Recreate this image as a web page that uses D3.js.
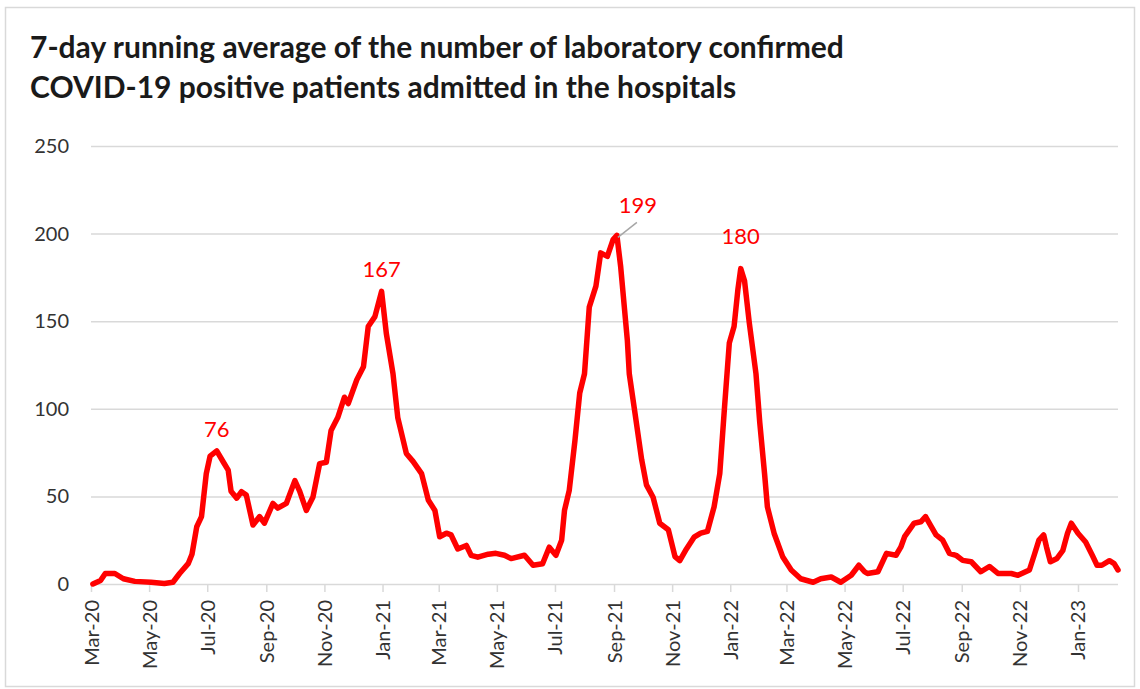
<!DOCTYPE html>
<meta charset="utf-8">
<script src="https://d3js.org/d3.v7.min.js"></script>
<style>
  body { margin: 0; background: #fff; }
  text { font-family: Lato, "Open Sans", sans-serif; }
</style>
<div id="my_dataviz"></div>
<script>
  // data
  var dates = [
    "2020-03-03","2020-03-11","2020-03-16","2020-03-26","2020-04-04","2020-04-16","2020-05-03","2020-05-17","2020-05-26",
    "2020-06-02","2020-06-11","2020-06-15","2020-06-20","2020-06-25","2020-06-30","2020-07-04","2020-07-11","2020-07-18",
    "2020-07-23","2020-07-26","2020-08-01","2020-08-06","2020-08-11","2020-08-18","2020-08-25","2020-08-30","2020-09-08",
    "2020-09-13","2020-09-22","2020-10-01","2020-10-06","2020-10-13","2020-10-20","2020-10-27","2020-11-03","2020-11-08",
    "2020-11-15","2020-11-22","2020-11-26","2020-12-05","2020-12-12","2020-12-17","2020-12-24","2020-12-31","2021-01-05",
    "2021-01-12","2021-01-17","2021-01-26","2021-02-02","2021-02-11","2021-02-18","2021-02-25","2021-03-02","2021-03-09",
    "2021-03-14","2021-03-21","2021-03-30","2021-04-04","2021-04-11","2021-04-22","2021-04-30","2021-05-09","2021-05-16",
    "2021-05-30","2021-06-08","2021-06-18","2021-06-25","2021-07-02","2021-07-08","2021-07-11","2021-07-16","2021-07-22",
    "2021-07-27","2021-08-01","2021-08-06","2021-08-13","2021-08-18","2021-08-25","2021-08-31","2021-09-04","2021-09-08",
    "2021-09-15","2021-09-17","2021-09-23","2021-09-30","2021-10-05","2021-10-12","2021-10-19","2021-10-28","2021-11-04",
    "2021-11-09","2021-11-16","2021-11-24","2021-12-01","2021-12-08","2021-12-15","2021-12-21","2021-12-26","2021-12-31",
    "2022-01-05","2022-01-09","2022-01-12","2022-01-16","2022-01-21","2022-01-28","2022-02-01","2022-02-06","2022-02-09",
    "2022-02-16","2022-02-25","2022-03-06","2022-03-16","2022-03-29","2022-04-06","2022-04-17","2022-04-27","2022-05-08",
    "2022-05-16","2022-05-22","2022-05-25","2022-06-05","2022-06-14","2022-06-24","2022-06-29","2022-07-03","2022-07-13",
    "2022-07-20","2022-07-25","2022-07-31","2022-08-05","2022-08-12","2022-08-19","2022-08-26","2022-09-02","2022-09-11",
    "2022-09-21","2022-09-30","2022-10-09","2022-10-23","2022-10-30","2022-11-11","2022-11-16","2022-11-21","2022-11-26",
    "2022-11-29","2022-12-03","2022-12-10","2022-12-16","2022-12-21","2022-12-25","2023-01-01","2023-01-09","2023-01-16",
    "2023-01-21","2023-01-26","2023-02-03","2023-02-08","2023-02-12"
  ];
  var values = [
    0, 2, 6, 6, 3, 1.5, 1, 0.3, 1,
    6, 11.6, 17, 32.7, 38.5, 63, 73, 76, 69.5,
    65, 53, 49, 52.7, 50.8, 33.7, 38.5, 34.7, 46,
    43.3, 46, 59, 53, 42, 49.7, 68.7, 69.5, 87.6,
    95, 106.6, 103, 116.6, 124, 147, 152.6, 167, 143,
    120, 95, 74.5, 70, 63, 48, 42, 27, 29,
    28, 20, 22, 16.4, 15.3, 17, 17.5, 16.4, 14.5,
    16.4, 10.7, 11.6, 21, 16.4, 25, 42, 53.5, 82,
    109, 120, 158, 170, 189, 187, 196.6, 199, 181,
    139, 120, 97.5, 71, 56.6, 49.5, 34.7, 31, 15.6,
    13.3, 20, 26.7, 29, 30, 44, 63, 101, 137.5,
    147, 168, 180, 173, 149, 120, 92, 63, 44,
    29, 15.6, 8, 3, 1, 3, 4, 1, 5,
    10.7, 7, 6, 7, 17.5, 16.4, 21, 27, 34.7,
    35.5, 38.5, 32.8, 28, 25, 17.5, 16.4, 13.5, 12.7,
    7, 10, 6, 6, 5, 8, 16.4, 25, 28,
    21, 12.7, 14.6, 19, 29, 34.7, 29, 24, 16.4,
    10.7, 10.7, 13.3, 11.6, 8
  ];
  var yTicks = [0, 50, 100, 150, 200, 250];
  var peakDates = ["2020-07-11", "2020-12-31", "2021-09-04", "2022-01-12"];
  var peakLabels = ["76", "167", "199", "180"];
  var titleLines = [
    "7-day running average of the number of laboratory confirmed",
    "COVID-19 positive patients admitted in the hospitals"
  ];

  var W = 1140, H = 689;
  var margin = {top: 146, right: 22, bottom: 105, left: 91},
      width = W - margin.left - margin.right,
      height = H - margin.top - margin.bottom;

  var parse = d3.utcParse("%Y-%m-%d");
  var data = dates.map(function(d, i) { return {date: parse(d), value: values[i]}; });

  var root = d3.select("#my_dataviz")
    .append("svg")
      .attr("width", W)
      .attr("height", H);

  // outer frame
  root.append("rect")
    .attr("x", 5.5).attr("y", 7.5)
    .attr("width", W - 11).attr("height", H - 10)
    .attr("fill", "#fff")
    .attr("stroke", "#d9d9d9")
    .attr("stroke-width", 1.5);

  // title
  root.append("g").selectAll("text")
    .data(titleLines)
    .enter()
    .append("text")
      .attr("x", 30)
      .attr("y", function(d, i) { return 58 + i * 40; })
      .style("font-size", "30px")
      .style("font-weight", "700")
      .style("fill", "#1a1a1a")
      .text(function(d) { return d; });

  var svg = root.append("g")
    .attr("transform", "translate(" + margin.left + "," + margin.top + ")");

  var x = d3.scaleUtc()
    .domain([parse("2020-03-01"), parse("2023-02-12")])
    .range([0, width]);

  var y = d3.scaleLinear()
    .domain([0, 250])
    .range([height, 0]);

  // gridlines + y labels
  var yAxis = svg.append("g")
    .call(d3.axisLeft(y).tickValues(yTicks).tickSize(-width).tickPadding(22));
  yAxis.select(".domain").remove();
  yAxis.selectAll(".tick line").attr("stroke", "#d9d9d9").attr("stroke-width", 1.5);
  yAxis.selectAll(".tick text")
    .style("font-size", "20px")
    .style("fill", "#333")
    .style("font-family", "Lato, sans-serif");

  // x axis
  var xAxis = svg.append("g")
    .attr("transform", "translate(0," + height + ")")
    .call(d3.axisBottom(x)
      .ticks(d3.utcMonth.every(2))
      .tickFormat(d3.utcFormat("%b-%y"))
      .tickSize(8));
  xAxis.select(".domain").remove();
  xAxis.selectAll(".tick line").attr("stroke", "#d9d9d9").attr("stroke-width", 1.5);
  xAxis.selectAll(".tick text")
    .attr("transform", "rotate(-90)")
    .attr("text-anchor", "end")
    .attr("x", -16)
    .attr("y", 0)
    .attr("dy", "0.35em")
    .style("font-size", "20px")
    .style("fill", "#333")
    .style("font-family", "Lato, sans-serif");

  // the line
  svg.append("path")
    .datum(data)
    .attr("fill", "none")
    .attr("stroke", "#ff0000")
    .attr("stroke-width", 5.5)
    .attr("stroke-linejoin", "round")
    .attr("stroke-linecap", "round")
    .attr("d", d3.line()
      .x(function(d) { return x(d.date); })
      .y(function(d) { return y(d.value); }));

  // peak labels
  var peaks = peakDates.map(function(d, i) {
    return {date: parse(d), value: +peakLabels[i], label: peakLabels[i]};
  });
  var lab = svg.append("g").selectAll("g")
    .data(peaks)
    .enter()
    .append("g");

  lab.append("text")
    .attr("x", function(d, i) { return x(d.date) + (i == 2 ? 21 : 0); })
    .attr("y", function(d, i) { return y(d.value) - (i == 2 ? 22 : i == 3 ? 25 : 14); })
    .attr("text-anchor", "middle")
    .style("font-size", "22px")
    .style("fill", "#ff0000")
    .text(function(d) { return d.label; });

  // leader line for 199
  lab.filter(function(d, i) { return i == 2; })
    .append("line")
      .attr("x1", function(d) { return x(d.date) + 1; })
      .attr("y1", function(d) { return y(d.value) + 2; })
      .attr("x2", function(d) { return x(d.date) + 20; })
      .attr("y2", function(d) { return y(d.value) - 13; })
      .attr("stroke", "#a6a6a6")
      .attr("stroke-width", 1.5);
</script>
